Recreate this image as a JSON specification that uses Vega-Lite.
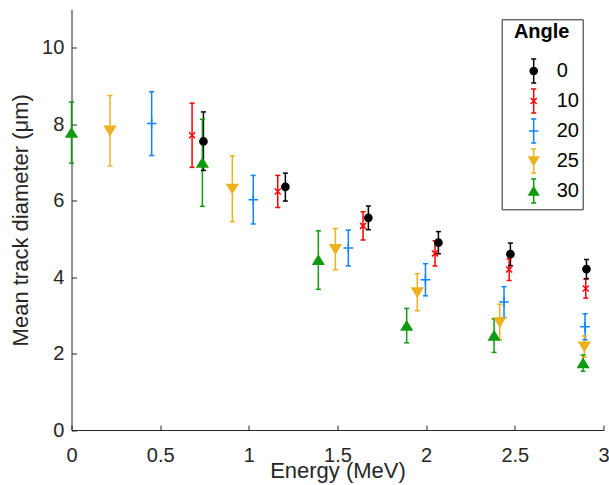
{
  "$schema": "https://vega.github.io/schema/vega-lite/v6.json",
  "width": 532,
  "height": 420.5,
  "autosize": "none",
  "padding": {"left": 71.5, "top": 9.5, "right": 5.5, "bottom": 55},
  "background": "white",
  "config": {
    "view": {"stroke": null},
    "font": "Liberation Sans",
    "axis": {
      "grid": false,
      "labelFlush": false,
      "domainColor": "#262626",
      "domainWidth": 1,
      "tickColor": "#262626",
      "tickWidth": 1,
      "tickSize": -5,
      "labelFont": "Liberation Sans",
      "labelFontSize": 20,
      "labelColor": "#262626",
      "titleFont": "Liberation Sans",
      "titleFontSize": 22,
      "titleFontWeight": "normal",
      "titleColor": "#262626"
    },
    "legend": {
      "labelFont": "Liberation Sans",
      "titleFont": "Liberation Sans",
      "orient": "none"
    }
  },
  "data": {
    "values": [
      {"Angle": "0", "Energy": 0.744, "Mean": 7.55, "Lo": 6.79, "Hi": 8.32},
      {"Angle": "0", "Energy": 1.206, "Mean": 6.36, "Lo": 5.99, "Hi": 6.72},
      {"Angle": "0", "Energy": 1.674, "Mean": 5.55, "Lo": 5.24, "Hi": 5.86},
      {"Angle": "0", "Energy": 2.069, "Mean": 4.9, "Lo": 4.61, "Hi": 5.19},
      {"Angle": "0", "Energy": 2.475, "Mean": 4.6, "Lo": 4.3, "Hi": 4.89},
      {"Angle": "0", "Energy": 2.904, "Mean": 4.21, "Lo": 3.96, "Hi": 4.46},
      {"Angle": "10", "Energy": 0.68, "Mean": 7.71, "Lo": 6.87, "Hi": 8.55},
      {"Angle": "10", "Energy": 1.163, "Mean": 6.24, "Lo": 5.82, "Hi": 6.66},
      {"Angle": "10", "Energy": 1.644, "Mean": 5.34, "Lo": 4.97, "Hi": 5.71},
      {"Angle": "10", "Energy": 2.05, "Mean": 4.62, "Lo": 4.29, "Hi": 4.95},
      {"Angle": "10", "Energy": 2.468, "Mean": 4.2, "Lo": 3.91, "Hi": 4.48},
      {"Angle": "10", "Energy": 2.9, "Mean": 3.7, "Lo": 3.45, "Hi": 3.95},
      {"Angle": "20", "Energy": 0.452, "Mean": 8.02, "Lo": 7.18, "Hi": 8.85},
      {"Angle": "20", "Energy": 1.025, "Mean": 6.02, "Lo": 5.39, "Hi": 6.66},
      {"Angle": "20", "Energy": 1.561, "Mean": 4.76, "Lo": 4.29, "Hi": 5.23},
      {"Angle": "20", "Energy": 1.996, "Mean": 3.93, "Lo": 3.51, "Hi": 4.35},
      {"Angle": "20", "Energy": 2.439, "Mean": 3.35, "Lo": 2.94, "Hi": 3.75},
      {"Angle": "20", "Energy": 2.896, "Mean": 2.7, "Lo": 2.36, "Hi": 3.04},
      {"Angle": "25", "Energy": 0.217, "Mean": 7.83, "Lo": 6.91, "Hi": 8.75},
      {"Angle": "25", "Energy": 0.907, "Mean": 6.31, "Lo": 5.45, "Hi": 7.17},
      {"Angle": "25", "Energy": 1.488, "Mean": 4.73, "Lo": 4.19, "Hi": 5.27},
      {"Angle": "25", "Energy": 1.95, "Mean": 3.6, "Lo": 3.12, "Hi": 4.09},
      {"Angle": "25", "Energy": 2.415, "Mean": 2.82, "Lo": 2.36, "Hi": 3.29},
      {"Angle": "25", "Energy": 2.892, "Mean": 2.18, "Lo": 1.9, "Hi": 2.46},
      {"Angle": "30", "Energy": 0.0, "Mean": 7.78, "Lo": 6.98, "Hi": 8.58},
      {"Angle": "30", "Energy": 0.738, "Mean": 6.99, "Lo": 5.85, "Hi": 8.13},
      {"Angle": "30", "Energy": 1.392, "Mean": 4.45, "Lo": 3.68, "Hi": 5.21},
      {"Angle": "30", "Energy": 1.89, "Mean": 2.73, "Lo": 2.28, "Hi": 3.18},
      {"Angle": "30", "Energy": 2.383, "Mean": 2.47, "Lo": 2.03, "Hi": 2.91},
      {"Angle": "30", "Energy": 2.885, "Mean": 1.75, "Lo": 1.54, "Hi": 1.96}
    ]
  },
  "encoding": {
    "x": {
      "field": "Energy",
      "type": "quantitative",
      "scale": {"domain": [0, 3], "nice": false, "zero": false},
      "axis": {
        "values": [0, 0.5, 1, 1.5, 2, 2.5, 3],
        "format": "~g",
        "labelPadding": 20.5,
        "titleBaseline": "alphabetic",
        "titlePadding": 12
      },
      "title": "Energy (MeV)"
    }
  },
  "layer": [
    {
      "mark": {"type": "rule", "strokeWidth": 1.5, "opacity": 1},
      "encoding": {
        "y": {
          "field": "Lo",
          "type": "quantitative",
          "scale": {"domain": [0, 11], "nice": false},
          "axis": {"values": [0, 2, 4, 6, 8, 10], "labelPadding": 12.7, "titlePadding": 9},
          "title": "Mean track diameter (μm)"
        },
        "y2": {"field": "Hi"},
        "color": {
          "field": "Angle",
          "type": "nominal",
          "scale": {"range": ["#000000", "#FF0000", "#0A84FF", "#EDB120", "#109A10"]},
          "legend": null
        }
      }
    },
    {
      "mark": {"type": "tick", "orient": "horizontal", "size": 5, "thickness": 1.5, "opacity": 1},
      "encoding": {
        "y": {"field": "Hi", "type": "quantitative"},
        "color": {"field": "Angle", "type": "nominal", "legend": null}
      }
    },
    {
      "mark": {"type": "tick", "orient": "horizontal", "size": 5, "thickness": 1.5, "opacity": 1},
      "encoding": {
        "y": {"field": "Lo", "type": "quantitative"},
        "color": {"field": "Angle", "type": "nominal", "legend": null}
      }
    },
    {
      "transform": [{"filter": "datum.Angle == '0'"}],
      "mark": {"type": "point", "shape": "M-0.6,0A0.6,0.6 0 1,0 0.6,0A0.6,0.6 0 1,0 -0.6,0Z", "size": 144, "fill": "#000000", "stroke": "#000000", "strokeWidth": 1.5, "opacity": 1},
      "encoding": {"y": {"field": "Mean", "type": "quantitative"}}
    },
    {
      "transform": [{"filter": "datum.Angle == '10'"}],
      "mark": {"type": "point", "shape": "M-0.5,-0.5L0.5,0.5M0.5,-0.5L-0.5,0.5", "size": 144, "fill": "#FF0000", "stroke": "#FF0000", "strokeWidth": 1.5, "opacity": 1},
      "encoding": {"y": {"field": "Mean", "type": "quantitative"}}
    },
    {
      "transform": [{"filter": "datum.Angle == '20'"}],
      "mark": {"type": "point", "shape": "M-0.8,0L0.8,0M0,-0.8L0,0.8", "size": 144, "fill": "#0A84FF", "stroke": "#0A84FF", "strokeWidth": 1.5, "opacity": 1},
      "encoding": {"y": {"field": "Mean", "type": "quantitative"}}
    },
    {
      "transform": [{"filter": "datum.Angle == '25'"}],
      "mark": {"type": "point", "shape": "M-0.88,-0.72L0.88,-0.72L0,0.72Z", "size": 144, "fill": "#EDB120", "stroke": "#EDB120", "strokeWidth": 1.5, "opacity": 1},
      "encoding": {"y": {"field": "Mean", "type": "quantitative"}}
    },
    {
      "transform": [{"filter": "datum.Angle == '30'"}],
      "mark": {"type": "point", "shape": "M0,-0.72L0.88,0.72L-0.88,0.72Z", "size": 144, "fill": "#109A10", "stroke": "#109A10", "strokeWidth": 1.5, "opacity": 1},
      "encoding": {"y": {"field": "Mean", "type": "quantitative"}}
    },
    {
      "transform": [{"filter": "datum.Energy < 0"}],
      "mark": {"type": "point", "size": 576, "strokeWidth": 1.5, "opacity": 1},
      "encoding": {
        "y": {"field": "Mean", "type": "quantitative"},
        "fill": {
          "field": "Angle", "type": "nominal",
          "scale": {"domain": ["0", "10", "20", "25", "30"], "range": ["#000000", "#FF0000", "#0A84FF", "#EDB120", "#109A10"]},
          "legend": {
            "title": "Angle", "orient": "none", "legendX": 430.2, "legendY": 9.8, "padding": 3,
            "strokeColor": "#262626", "fillColor": "white",
            "titleFontSize": 20, "titleFontWeight": "bold", "titleColor": "#000000", "titleAnchor": "middle",
            "titlePadding": 15.7,
            "labelFontSize": 20, "labelColor": "#000000", "labelOffset": 10, "labelExpr": "datum.label + '    '",
            "symbolSize": 576, "symbolStrokeWidth": 1.5, "symbolOpacity": 1, "symbolOffset": 16, "rowPadding": 0
          }
        },
        "stroke": {
          "field": "Angle", "type": "nominal",
          "scale": {"domain": ["0", "10", "20", "25", "30"], "range": ["#000000", "#FF0000", "#0A84FF", "#EDB120", "#109A10"]},
          "legend": {
            "title": "Angle", "orient": "none", "legendX": 430.2, "legendY": 9.8, "padding": 3,
            "strokeColor": "#262626", "fillColor": "white",
            "titleFontSize": 20, "titleFontWeight": "bold", "titleColor": "#000000", "titleAnchor": "middle",
            "titlePadding": 15.7,
            "labelFontSize": 20, "labelColor": "#000000", "labelOffset": 10, "labelExpr": "datum.label + '    '",
            "symbolSize": 576, "symbolStrokeWidth": 1.5, "symbolOpacity": 1, "symbolOffset": 16, "rowPadding": 0
          }
        },
        "shape": {
          "field": "Angle", "type": "nominal",
          "scale": {
            "domain": ["0", "10", "20", "25", "30"],
            "range": [
              "M0,-1L0,1M-0.21,-1L0.21,-1M-0.21,1L0.21,1M-0.3,0A0.3,0.3 0 1,0 0.3,0A0.3,0.3 0 1,0 -0.3,0Z",
              "M0,-1L0,1M-0.21,-1L0.21,-1M-0.21,1L0.21,1M-0.25,-0.25L0.25,0.25M0.25,-0.25L-0.25,0.25",
              "M0,-1L0,1M-0.21,-1L0.21,-1M-0.21,1L0.21,1M-0.39,0L0.39,0",
              "M0,-1L0,1M-0.21,-1L0.21,-1M-0.21,1L0.21,1M-0.4,-0.33L0.4,-0.33L0,0.33Z",
              "M0,-1L0,1M-0.21,-1L0.21,-1M-0.21,1L0.21,1M0,-0.33L0.4,0.33L-0.4,0.33Z"
            ]
          },
          "legend": {
            "title": "Angle", "orient": "none", "legendX": 430.2, "legendY": 9.8, "padding": 3,
            "strokeColor": "#262626", "fillColor": "white",
            "titleFontSize": 20, "titleFontWeight": "bold", "titleColor": "#000000", "titleAnchor": "middle",
            "titlePadding": 15.7,
            "labelFontSize": 20, "labelColor": "#000000", "labelOffset": 10, "labelExpr": "datum.label + '    '",
            "symbolSize": 576, "symbolStrokeWidth": 1.5, "symbolOpacity": 1, "symbolOffset": 16, "rowPadding": 0
          }
        }
      }
    }
  ]
}
